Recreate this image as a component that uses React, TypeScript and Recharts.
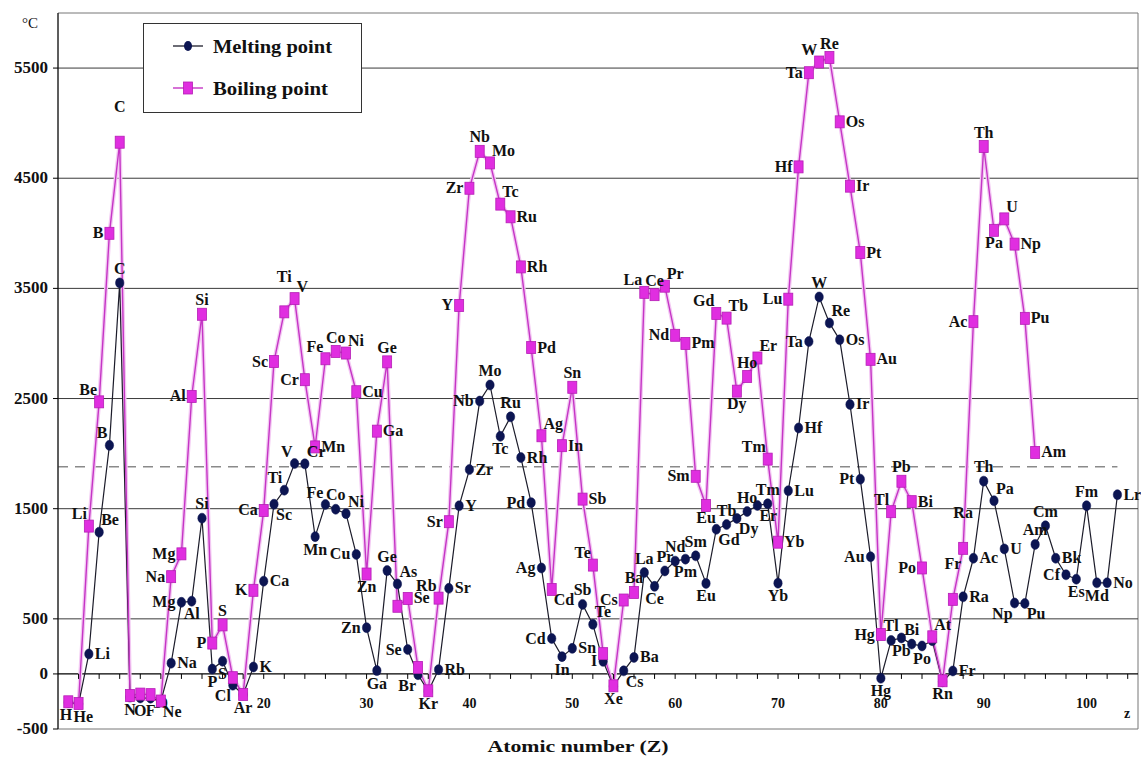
import React from 'react';
import {
  LineChart,
  Line,
  XAxis,
  YAxis,
  ReferenceLine,
  ReferenceDot,
  ReferenceArea,
  LabelList,
} from 'recharts';

const FONT = '"Liberation Serif", "Times New Roman", serif';

const symbols = [
  'H', 'He', 'Li', 'Be', 'B', 'C', 'N', 'O', 'F', 'Ne',
  'Na', 'Mg', 'Al', 'Si', 'P', 'S', 'Cl', 'Ar', 'K', 'Ca',
  'Sc', 'Ti', 'V', 'Cr', 'Mn', 'Fe', 'Co', 'Ni', 'Cu', 'Zn',
  'Ga', 'Ge', 'As', 'Se', 'Br', 'Kr', 'Rb', 'Sr', 'Y', 'Zr',
  'Nb', 'Mo', 'Tc', 'Ru', 'Rh', 'Pd', 'Ag', 'Cd', 'In', 'Sn',
  'Sb', 'Te', 'I', 'Xe', 'Cs', 'Ba', 'La', 'Ce', 'Pr', 'Nd',
  'Pm', 'Sm', 'Eu', 'Gd', 'Tb', 'Dy', 'Ho', 'Er', 'Tm', 'Yb',
  'Lu', 'Hf', 'Ta', 'W', 'Re', 'Os', 'Ir', 'Pt', 'Au', 'Hg',
  'Tl', 'Pb', 'Bi', 'Po', 'At', 'Rn', 'Fr', 'Ra', 'Ac', 'Th',
  'Pa', 'U', 'Np', 'Pu', 'Am', 'Cm', 'Bk', 'Cf', 'Es', 'Fm',
  'Md', 'No', 'Lr',
];

const meltingC = [
  -259, -272, 181, 1287, 2075, 3550, -210, -218, -220, -249,
  98, 650, 660, 1414, 44, 115, -102, -189, 63, 842,
  1541, 1668, 1910, 1907, 1246, 1538, 1495, 1455, 1085, 420,
  30, 938, 817, 221, -7, -157, 39, 777, 1526, 1855,
  2477, 2623, 2157, 2334, 1964, 1555, 962, 321, 157, 232,
  631, 450, 114, -112, 28, 150, 920, 795, 935, 1024,
  1042, 1072, 822, 1313, 1356, 1412, 1474, 1529, 1545, 824,
  1663, 2233, 3017, 3422, 3186, 3033, 2446, 1768, 1064, -39,
  304, 327, 271, 254, 302, -71, 27, 700, 1050, 1750,
  1572, 1135, 644, 640, 1176, 1345, 1050, 900, 860, 1527,
  827, 827, 1627,
];

const boilingC = [
  -253, -269, 1342, 2470, 4000, 4827, -196, -183, -188, -246,
  883, 1090, 2519, 3265, 280, 445, -34, -186, 759, 1484,
  2836, 3287, 3407, 2671, 2061, 2861, 2927, 2913, 2562, 907,
  2204, 2833, 614, 685, 59, -153, 688, 1382, 3345, 4409,
  4744, 4639, 4265, 4150, 3695, 2963, 2162, 767, 2072, 2602,
  1587, 988, 184, -108, 671, 740, 3464, 3443, 3520, 3074,
  3000, 1794, 1529, 3273, 3230, 2567, 2700, 2868, 1950, 1196,
  3402, 4603, 5458, 5555, 5596, 5012, 4428, 3825, 2856, 357,
  1473, 1749, 1564, 962, 337, -62, 677, 1140, 3198, 4788,
  4027, 4131, 3902, 3228, 2011,
];

// label placement codes relative to each marker (n = no label)
const meltLabelPos = [
  'bw', 'be', 'r', 'tr', 'tl', 't', 'b', 'b', 'b', 'br',
  'r', 'l', 'b', 't', 'b', 'b', 'bl', 'b', 'r', 'r',
  'br', 'tl', 'tl', 'tr', 'b', 'tl', 't', 'tr', 'l', 'l',
  'b', 't', 'tr', 'l', 'bl', 'b', 'r', 'r', 'r', 'r',
  'l', 't', 'b', 't', 'r', 'l', 'l', 'l', 'b', 'r',
  't', 'tr', 'l', 'b', 'br', 'r', 't', 'b', 't', 't',
  'b', 't', 'b', 'br', 't', 'br', 't', 'br', 't', 'b',
  'r', 'r', 'l', 't', 'tr', 'r', 'r', 'l', 'l', 'b',
  't', 'b', 't', 'b', 'n', 'n', 'r', 'r', 'r', 't',
  'tr', 'r', 'bl', 'br', 't', 't', 'r', 'l', 'b', 't',
  'b', 'r', 'r',
];

const boilLabelPos = [
  'n', 'n', 'tl', 'tl', 'l', 'T', 'n', 'n', 'n', 'n',
  'l', 'l', 'l', 't', 'l', 't', 'n', 'n', 'l', 'l',
  'l', 'T', 'tr', 'l', 'r', 'tl', 't', 'tr', 'r', 'b',
  'r', 't', 'n', 'r', 'n', 'n', 'tl', 'l', 'l', 'l',
  't', 'tr', 'tr', 'r', 'r', 'r', 'tr', 'br', 'r', 't',
  'r', 'tl', 'n', 'n', 'l', 't', 'tl', 't', 'tr', 'l',
  'r', 'l', 'b', 'tl', 'tr', 'b', 't', 'tr', 'tl', 'r',
  'l', 'l', 'l', 'tl', 't', 'r', 'r', 'r', 'r', 'l',
  'tl', 't', 'r', 'l', 'tr', 'b', 'T', 'T', 'l', 't',
  'b', 'tr', 'r', 'r', 'r',
];

const yTicks = [-500, 0, 500, 1500, 2500, 3500, 4500, 5500];
const gridLines = [500, 1500, 2500, 3500, 4500, 5500];
const xTickZ = [2, 4, 6, 8, 10, 12, 14, 16, 18, 20, 22, 24, 26, 28, 30, 32, 34, 36, 38, 40, 42, 44, 46, 48, 50, 52, 54, 56, 58, 60, 62, 64, 66, 68, 70, 72, 74, 76, 78, 80, 82, 84, 86, 88, 90, 92, 94, 96, 98, 100, 102, 104];
const xLabelZ = [10, 20, 30, 40, 50, 60, 70, 80, 90, 100];
const dashedLevel = 1880;

const rows = symbols.map((s, i) => ({
  z: i + 1,
  sym: s,
  melt: meltingC[i],
  boil: i < boilingC.length ? boilingC[i] : null,
}));

function place(code: string, x: number, y: number) {
  switch (code) {
    case 't': return { x, y: y - 9, a: 'middle' };
    case 'T': return { x, y: y - 30, a: 'middle' };
    case 'b': return { x, y: y + 18, a: 'middle' };
    case 'bw': return { x: x + 4, y: y + 18, a: 'end' };
    case 'be': return { x: x - 5, y: y + 18, a: 'start' };
    case 'l': return { x: x - 6, y: y + 5, a: 'end' };
    case 'r': return { x: x + 6, y: y + 5, a: 'start' };
    case 'tl': return { x: x - 2, y: y - 7, a: 'end' };
    case 'tr': return { x: x + 2, y: y - 7, a: 'start' };
    case 'bl': return { x: x - 2, y: y + 16, a: 'end' };
    case 'br': return { x: x + 2, y: y + 16, a: 'start' };
    default: return null;
  }
}

function makeLabel(positions: string[]) {
  return (props: any) => {
    const { x, y, index, value } = props;
    if (x == null || y == null || Number.isNaN(y)) return null;
    const p = place(positions[index] || 'n', x, y);
    if (!p) return null;
    return (
      <text
        key={`lb-${index}`}
        x={p.x}
        y={p.y}
        textAnchor={p.a as any}
        fontFamily={FONT}
        fontWeight="bold"
        fontSize={16}
        fill="#111"
      >
        {value}
      </text>
    );
  };
}

const meltLabel = makeLabel(meltLabelPos);
const boilLabel = makeLabel(boilLabelPos);

const renderMeltDot = (props: any) => {
  const { cx, cy, index } = props;
  if (cx == null || cy == null) return <g key={`md-${index}`} />;
  return <ellipse key={`md-${index}`} cx={cx} cy={cy} rx={4.2} ry={5} fill="#0c1552" stroke="#0c1552" strokeWidth={0.5} />;
};

const renderBoilDot = (props: any) => {
  const { cx, cy, index } = props;
  if (cx == null || cy == null) return <g key={`bd-${index}`} />;
  return <rect key={`bd-${index}`} x={cx - 4.5} y={cy - 6} width={9} height={12} fill="#e02ee0" stroke="#b51fb5" strokeWidth={0.8} />;
};

const renderYTick = (props: any) => {
  const { x, y, payload } = props;
  return (
    <text x={x - 3} y={y + 5} textAnchor="end" fontFamily={FONT} fontWeight="bold" fontSize={17} fill="#111">
      {payload.value}
    </text>
  );
};

const makeXTick = (t: number) => (props: any) => {
  const { cx, cy } = props;
  return (
    <g>
      <line x1={cx} y1={cy} x2={cx} y2={cy + 5} stroke="#000" strokeWidth={1} />
      {xLabelZ.includes(t) ? (
        <text x={cx} y={cy + 34} textAnchor="middle" fontFamily={FONT} fontWeight="bold" fontSize={14} fill="#111">
          {t}
        </text>
      ) : null}
    </g>
  );
};

export default function App() {
  return (
    <div style={{ position: 'absolute', left: 0, top: 0, width: 1141, height: 760, background: '#fff' }}>
      <LineChart width={1141} height={760} data={rows} margin={{ top: 13, right: 3, bottom: 31, left: 0 }}>
        <XAxis type="number" dataKey="z" domain={[0, 105]} hide allowDataOverflow />
        <YAxis
          type="number"
          domain={[-500, 6000]}
          ticks={yTicks}
          interval={0}
          width={58}
          allowDataOverflow
          axisLine={{ stroke: '#000' }}
          tickLine={{ stroke: '#000' }}
          tickSize={5}
          tick={renderYTick}
        />
        <ReferenceArea x1={0} x2={105} y1={-500} y2={6000} fill="none" stroke="#777" strokeWidth={1} />
        {gridLines.map((v) => (
          <ReferenceLine key={v} y={v} stroke="#3a3a3a" strokeWidth={1} />
        ))}
        <ReferenceLine y={0} stroke="#000" strokeWidth={1.3} />
        <ReferenceLine
          segment={[{ x: 0, y: dashedLevel }, { x: 103, y: dashedLevel }]}
          stroke="#8a8a8a"
          strokeDasharray="10 7"
          strokeWidth={1.5}
        />
        {xTickZ.map((t) => (
          <ReferenceDot key={`xt-${t}`} x={t} y={0} r={0} shape={makeXTick(t)} />
        ))}
        <Line
          dataKey="boil"
          stroke="#f3c8f3"
          strokeWidth={4}
          dot={false}
          activeDot={false}
          isAnimationActive={false}
          connectNulls={false}
        />
        <Line
          dataKey="melt"
          stroke="#1c1c2a"
          strokeWidth={1.2}
          dot={renderMeltDot}
          activeDot={false}
          isAnimationActive={false}
        >
          <LabelList dataKey="sym" content={meltLabel} />
        </Line>
        <Line
          dataKey="boil"
          stroke="#c535c5"
          strokeWidth={1.4}
          dot={renderBoilDot}
          activeDot={false}
          isAnimationActive={false}
          connectNulls={false}
        >
          <LabelList dataKey="sym" content={boilLabel} />
        </Line>
      </LineChart>
      <svg
        width={1141}
        height={760}
        style={{ position: 'absolute', left: 0, top: 0, pointerEvents: 'none' }}
      >
        <text x={22} y={28} fontFamily={FONT} fontSize={15} fill="#111">°C</text>
        <text x={1127} y={718} fontFamily={FONT} fontWeight="bold" fontSize={14} textAnchor="middle" fill="#111">z</text>
        <text
          x={578}
          y={752}
          fontFamily={FONT}
          fontWeight="bold"
          fontSize={16}
          textAnchor="middle"
          textLength={181}
          lengthAdjust="spacingAndGlyphs"
          fill="#111"
        >
          Atomic number (Z)
        </text>
        <rect x={143.5} y={23.5} width={218} height={89} fill="#fff" stroke="#333" strokeWidth={1} />
        <line x1={173} y1={46} x2={203} y2={46} stroke="#1c1c2a" strokeWidth={1.3} />
        <ellipse cx={188} cy={46} rx={4} ry={5} fill="#0c1552" />
        <text x={213} y={53} fontFamily={FONT} fontWeight="bold" fontSize={19} textLength={119} lengthAdjust="spacingAndGlyphs" fill="#111">
          Melting point
        </text>
        <line x1={173} y1={88} x2={203} y2={88} stroke="#c535c5" strokeWidth={1.4} />
        <rect x={183.5} y={82} width={9} height={12} fill="#e02ee0" stroke="#b51fb5" strokeWidth={0.8} />
        <text x={213} y={95} fontFamily={FONT} fontWeight="bold" fontSize={19} textLength={115} lengthAdjust="spacingAndGlyphs" fill="#111">
          Boiling point
        </text>
      </svg>
    </div>
  );
}
